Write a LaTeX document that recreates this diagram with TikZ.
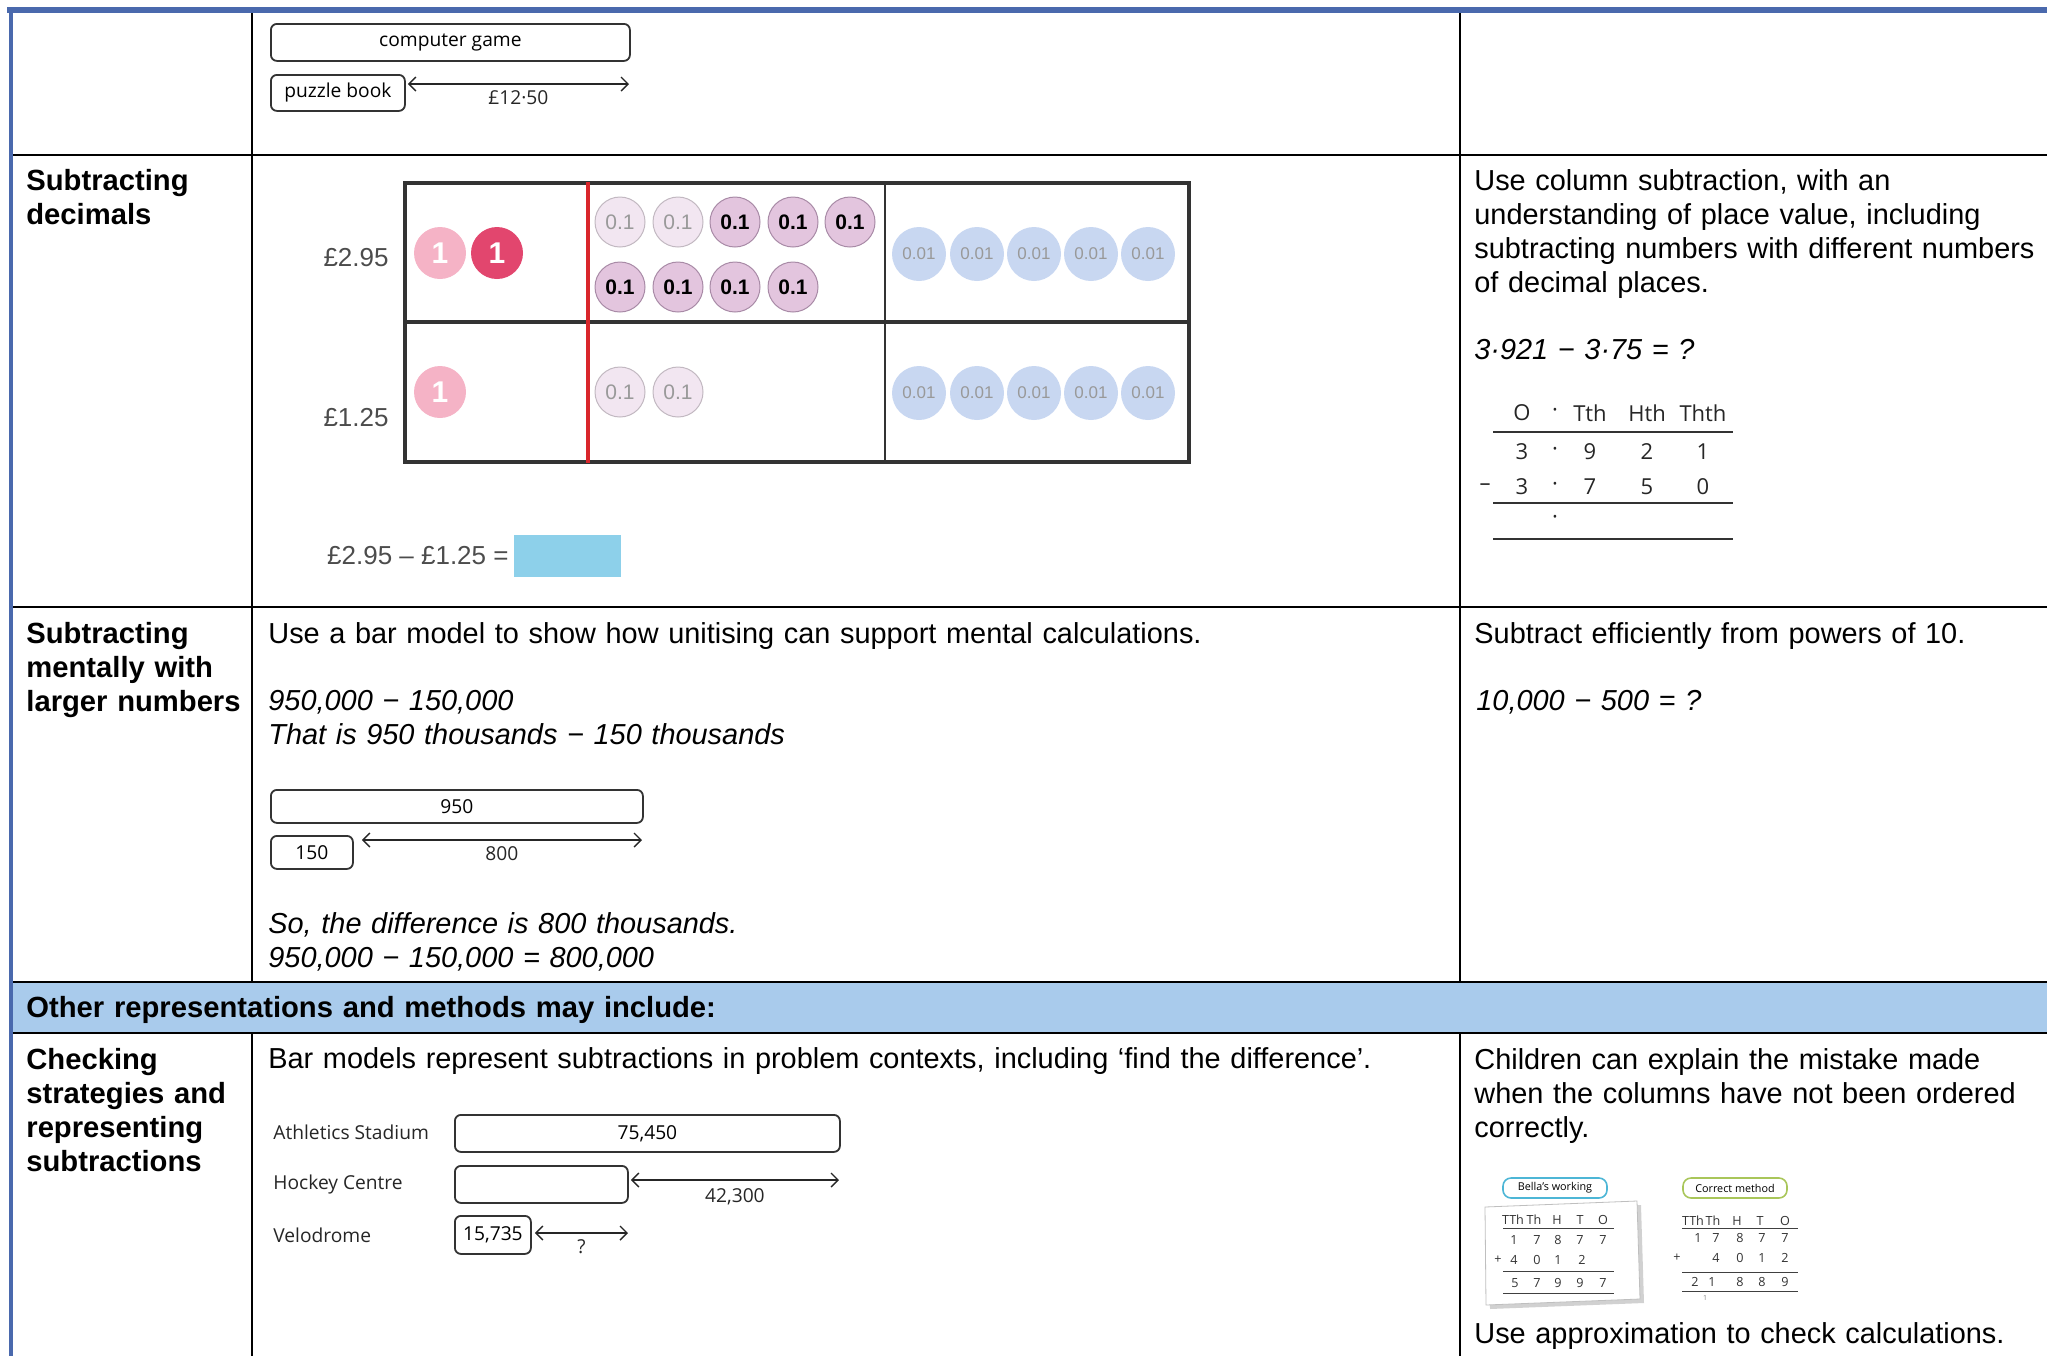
\documentclass[tikz,border=0pt]{standalone}
\usepackage{fontspec}
\setmainfont{Liberation Sans}
\newfontfamily\kidfont{Open Sans}
\usetikzlibrary{arrows.meta,positioning}

\definecolor{frameblue}{HTML}{4A69AD}
\definecolor{headblue}{HTML}{A9CBEC}
\definecolor{onepink}{HTML}{F5B3C6}
\definecolor{onered}{HTML}{E2466E}
\definecolor{tenthpale}{HTML}{F2E6F1}
\definecolor{tenthdark}{HTML}{E3C5DE}
\definecolor{tenthedge}{HTML}{A88AA6}
\definecolor{hundblue}{HTML}{C8D7F1}
\definecolor{answerblue}{HTML}{8DD0EA}
\definecolor{bellacyan}{HTML}{4DB6D6}
\definecolor{correctgreen}{HTML}{A9C65A}
\definecolor{chartred}{HTML}{D9262B}

\begin{document}
\begin{tikzpicture}[
    x=0.5pt, y=-0.5pt,
    tableline/.style={line width=1.3pt, black},
    rowhead/.style={anchor=base west, inner sep=0pt, text width=#1, align=left, font=\fontsize{14.6}{17}\selectfont\bfseries},
    rowhead/.default=118pt,
    body/.style={anchor=base west, inner sep=0pt, text width=#1, align=left, font=\fontsize{14.45}{17}\selectfont},
    body/.default=420pt,
    bodyit/.style={body=#1, font=\fontsize{14.45}{17}\selectfont\itshape},
    bodyit/.default=420pt,
    barbox/.style={draw=black!80, line width=0.9pt, rounded corners=3pt, anchor=north west, inner sep=0pt, font=\kidfont\fontsize{9.6}{10}\selectfont},
    spanarrow/.style={<->, >={Straight Barb[length=3.5pt, width=7pt]}, line width=0.7pt, black!85},
    numlabel/.style={inner sep=0pt, font=\kidfont\fontsize{9.6}{10}\selectfont, text=black!85},
    barname/.style={anchor=west, inner sep=0pt, font=\kidfont\fontsize{9.6}{10}\selectfont, text=black!85},
    price/.style={anchor=east, inner sep=0pt, font=\fontsize{13}{13}\selectfont, text=black!70},
    one/.style={circle, minimum size=26pt, inner sep=0pt, fill=onepink, text=white, font=\bfseries\fontsize{15}{15}\selectfont},
    onedark/.style={one, fill=onered},
    tenth/.style={circle, minimum size=25pt, inner sep=0pt, fill=tenthpale, draw=tenthpale!80!black, line width=0.5pt, text=black!40, font=\fontsize{10.5}{10.5}\selectfont},
    tenthdark/.style={tenth, fill=tenthdark, draw=tenthedge, text=black, font=\bfseries\fontsize{10.5}{10.5}\selectfont},
    hundredth/.style={circle, minimum size=27pt, inner sep=0pt, fill=hundblue, text=black!40, font=\fontsize{8.5}{8.5}\selectfont},
    digit/.style={inner sep=0pt, font=\kidfont\fontsize{11}{11}\selectfont, text=black!85},
    smalldigit/.style={inner sep=0pt, font=\kidfont\fontsize{6.3}{6.3}\selectfont, text=black!80},
    pill/.style={draw=#1, rounded corners=4pt, line width=0.8pt, minimum width=52pt, minimum height=10pt, inner sep=0pt, font=\kidfont\fontsize{5.4}{6}\selectfont}
]
\useasboundingbox (0,0) rectangle (2047,1356);

% Table
\fill[headblue] (13,982) rectangle (2047,1033);
\draw[line width=3pt, frameblue] (7,10) -- (2047,10);
\draw[line width=2pt, frameblue] (11,8) -- (11,1356);
\draw[tableline] (13,155) -- (2047,155);
\draw[tableline] (13,607) -- (2047,607);
\draw[tableline] (13,982) -- (2047,982);
\draw[tableline] (13,1033) -- (2047,1033);
\draw[tableline] (252,13) -- (252,982);
\draw[tableline] (252,1033) -- (252,1356);
\draw[tableline] (1460,13) -- (1460,982);
\draw[tableline] (1460,1033) -- (1460,1356);

% Row headings
\node (headdec) [rowhead] at (26,190) {Subtracting\\ decimals};
\node (headmental) [rowhead] at (26,643) {Subtracting\\ mentally with\\ larger numbers};
\node (headother) [rowhead=600pt] at (26,1017) {Other representations and methods may include:};
\node (headcheck) [rowhead] at (26,1069) {Checking\\ strategies and\\ representing\\ subtractions};

% Bar model: computer game
\node (game) [barbox, minimum width=179.5pt, minimum height=18.5pt] at (270,23) {computer game};
\node (book) [barbox, minimum width=67pt, minimum height=18pt] at (270,74) {puzzle book};
\coordinate (gameend) at (629,84);
\draw[spanarrow] ([xshift=1pt]book.east |- gameend) -- node[midway, yshift=-7pt, numlabel] {£12·50} (gameend);

% Place value chart
\draw[line width=1.6pt, black!80] (405,183) rectangle (1189,462);
\draw[line width=1.6pt, black!80] (405,322) -- (1189,322);
\draw[line width=1.3pt, black!80] (885,183) -- (885,462);
\draw[line width=2pt, chartred] (588,182) -- (588,463);
\node (priceA) [price] at (389,258) {£2.95};
\node (priceB) [price] at (389,418) {£1.25};

\node (oneA) [one] at (440,253) {1};
\node (oneB) [onedark] at (497,253) {1};
\node (tenA1) [tenth] at (620,222) {0.1};
\node (tenA2) [tenth] at (678,222) {0.1};
\node (tenA3) [tenthdark] at (735,222) {0.1};
\node (tenA4) [tenthdark] at (793,222) {0.1};
\node (tenA5) [tenthdark] at (850,222) {0.1};
\node (tenA6) [tenthdark] at (620,287) {0.1};
\node (tenA7) [tenthdark] at (678,287) {0.1};
\node (tenA8) [tenthdark] at (735,287) {0.1};
\node (tenA9) [tenthdark] at (793,287) {0.1};
\node (hunA1) [hundredth] at (919,254) {0.01};
\node (hunA2) [hundredth] at (977,254) {0.01};
\node (hunA3) [hundredth] at (1034,254) {0.01};
\node (hunA4) [hundredth] at (1091,254) {0.01};
\node (hunA5) [hundredth] at (1148,254) {0.01};

\node (oneC) [one] at (440,392) {1};
\node (tenB1) [tenth] at (620,392) {0.1};
\node (tenB2) [tenth] at (678,392) {0.1};
\node (hunB1) [hundredth] at (919,393) {0.01};
\node (hunB2) [hundredth] at (977,393) {0.01};
\node (hunB3) [hundredth] at (1034,393) {0.01};
\node (hunB4) [hundredth] at (1091,393) {0.01};
\node (hunB5) [hundredth] at (1148,393) {0.01};

\node (priceeq) [price] at (509,556) {£2.95 – £1.25 =};
\fill[answerblue] (514,535) rectangle (621,577);

% Column subtraction
\node (decwhy) [body=300pt] at (1474,190) {Use column subtraction, with an\\ understanding of place value, including\\ subtracting numbers with different numbers\\ of decimal places.};
\node (deceq) [bodyit=200pt] at (1474,359) {3·921 − 3·75 = ?};

\node (colO) [digit] at (1522,413) {O};
\node (colP) [digit] at (1555,413) {·};
\node (colT) [digit] at (1590,413) {Tth};
\node (colH) [digit] at (1647,413) {Hth};
\node (colTh) [digit] at (1703,413) {Thth};
\node (a1) [digit] at (1522,452) {3};
\node (a2) [digit] at (1555,452) {·};
\node (a3) [digit] at (1590,452) {9};
\node (a4) [digit] at (1647,452) {2};
\node (a5) [digit] at (1703,452) {1};
\node (bminus) [digit] at (1485,487) {–};
\node (b1) [digit] at (1522,487) {3};
\node (b2) [digit] at (1555,487) {·};
\node (b3) [digit] at (1590,487) {7};
\node (b4) [digit] at (1647,487) {5};
\node (b5) [digit] at (1703,487) {0};
\node (c2) [digit] at (1555,520) {·};
\draw[line width=0.8pt, black!80] (1493,432) -- (1733,432);
\draw[line width=0.8pt, black!80] (1493,503) -- (1733,503);
\draw[line width=0.8pt, black!80] (1493,539) -- (1733,539);

% Mental subtraction
\node (unitise) [body=600pt] at (268,643) {Use a bar model to show how unitising can support mental calculations.};
\node (bigeq) [bodyit] at (268,710) {950,000 − 150,000\\ That is 950 thousands − 150 thousands};
\node (whole) [barbox, minimum width=186pt, minimum height=16.5pt] at (270,789) {950};
\node (part) [barbox, minimum width=41pt, minimum height=16.5pt] at (270,835) {150};
\coordinate (wholeend) at (642,840);
\draw[spanarrow] ([xshift=4pt]part.east |- wholeend) -- node[midway, yshift=-7pt, numlabel] {800} (wholeend);
\node (sodiff) [bodyit] at (268,933) {So, the difference is 800 thousands.\\ 950,000 − 150,000 = 800,000};

\node (powers) [body=300pt] at (1474,643) {Subtract efficiently from powers of 10.};
\node (powerseq) [bodyit=200pt] at (1476,710) {10,000 − 500 = ?};

% Checking strategies
\node (contexts) [body=600pt] at (268,1068) {Bar models represent subtractions in problem contexts, including ‘find the difference’.};
\node (athname) [barname] at (273,1132) {Athletics Stadium};
\node (hockname) [barname] at (273,1184) {Hockey Centre};
\node (veloname) [barname] at (273,1235) {Velodrome};
\node (ath) [barbox, minimum width=192.5pt, minimum height=18.5pt] at (454,1114) {75,450};
\node (hock) [barbox, minimum width=86.5pt, minimum height=18.5pt] at (454,1165) {};
\node (velo) [barbox, minimum width=38pt, minimum height=19pt] at (454,1215) {15,735};
\coordinate (athend) at (839,1180);
\coordinate (hockend) at (628,1233);
\draw[spanarrow] ([xshift=1pt]hock.east |- athend) -- node[midway, yshift=-8.5pt, numlabel] {42,300} (athend);
\draw[spanarrow] ([xshift=1.5pt]velo.east |- hockend) -- node[midway, yshift=-7pt, numlabel] {?} (hockend);

\node (mistake) [body=300pt] at (1474,1069) {Children can explain the mistake made\\ when the columns have not been ordered\\ correctly.};
\node (approx) [body=300pt] at (1474,1343) {Use approximation to check calculations.};

% Bella's working
\fill[black!18] (1489,1211) -- (1641,1205) -- (1644,1303) -- (1490,1309) -- cycle;
\filldraw[fill=white, draw=black!25, line width=0.4pt] (1485,1207) -- (1637,1201) -- (1640,1299) -- (1486,1305) -- cycle;
\node (bella) [pill=bellacyan] at (1555,1188) {Bella’s working};
\node (bTTh) [smalldigit] at (1513,1220) {TTh};
\node (bTh) [smalldigit] at (1534,1220) {Th};
\node (bH) [smalldigit] at (1557,1220) {H};
\node (bT) [smalldigit] at (1580,1220) {T};
\node (bO) [smalldigit] at (1603,1220) {O};
\node (bx1) [smalldigit] at (1514,1240) {1};
\node (bx2) [smalldigit] at (1537,1240) {7};
\node (bx3) [smalldigit] at (1558,1240) {8};
\node (bx4) [smalldigit] at (1580,1240) {7};
\node (bx5) [smalldigit] at (1603,1240) {7};
\node (byplus) [smalldigit] at (1498,1260) {+};
\node (by1) [smalldigit] at (1514,1260) {4};
\node (by2) [smalldigit] at (1537,1260) {0};
\node (by3) [smalldigit] at (1558,1260) {1};
\node (by4) [smalldigit] at (1582,1260) {2};
\node (bz1) [smalldigit] at (1515,1283) {5};
\node (bz2) [smalldigit] at (1537,1283) {7};
\node (bz3) [smalldigit] at (1558,1283) {9};
\node (bz4) [smalldigit] at (1580,1283) {9};
\node (bz5) [smalldigit] at (1603,1283) {7};
\draw[line width=0.5pt, black!75] (1503,1228) -- (1614,1228);
\draw[line width=0.5pt, black!75] (1503,1271) -- (1614,1271);
\draw[line width=0.5pt, black!75] (1503,1293) -- (1614,1293);

% Correct method
\node (correct) [pill=correctgreen] at (1735,1188) {Correct method};
\node (cTTh) [smalldigit] at (1693,1221) {TTh};
\node (cTh) [smalldigit] at (1713,1221) {Th};
\node (cH) [smalldigit] at (1737,1221) {H};
\node (cT) [smalldigit] at (1760,1221) {T};
\node (cO) [smalldigit] at (1785,1221) {O};
\node (cx1) [smalldigit] at (1698,1238) {1};
\node (cx2) [smalldigit] at (1716,1238) {7};
\node (cx3) [smalldigit] at (1740,1238) {8};
\node (cx4) [smalldigit] at (1762,1238) {7};
\node (cx5) [smalldigit] at (1785,1238) {7};
\node (cyplus) [smalldigit] at (1677,1258) {+};
\node (cy2) [smalldigit] at (1716,1258) {4};
\node (cy3) [smalldigit] at (1740,1258) {0};
\node (cy4) [smalldigit] at (1762,1258) {1};
\node (cy5) [smalldigit] at (1785,1258) {2};
\node (cz1) [smalldigit] at (1695,1282) {2};
\node (cz2) [smalldigit] at (1712,1282) {1};
\node (cz3) [smalldigit] at (1740,1282) {8};
\node (cz4) [smalldigit] at (1762,1282) {8};
\node (cz5) [smalldigit] at (1785,1282) {9};
\node (carry) [smalldigit, font=\kidfont\fontsize{3.5}{3.5}\selectfont, text=black!50] at (1705,1298) {1};
\draw[line width=0.5pt, black!75] (1682,1228) -- (1798,1228);
\draw[line width=0.5pt, black!75] (1682,1272) -- (1798,1272);
\draw[line width=0.5pt, black!75] (1682,1291) -- (1798,1291);

\end{tikzpicture}
\end{document}
